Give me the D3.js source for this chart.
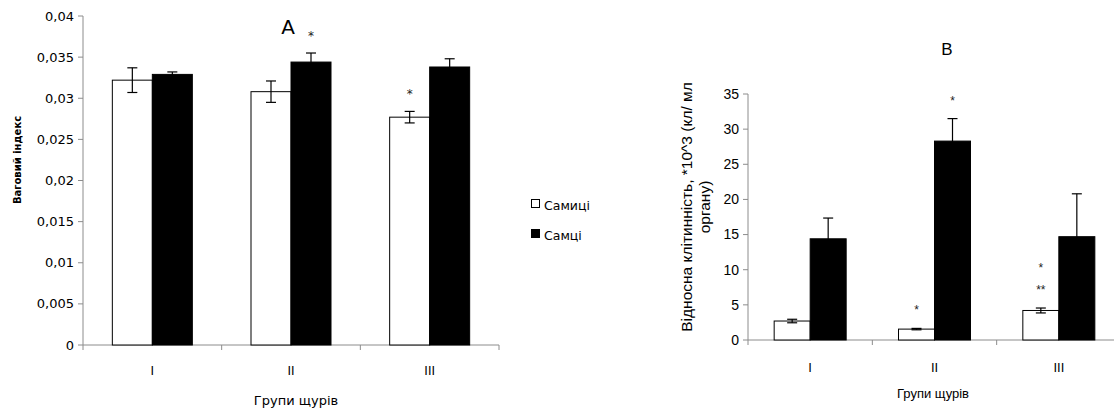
<!DOCTYPE html>
<html>
<head>
<meta charset="utf-8">
<script src="https://cdn.jsdelivr.net/npm/d3@7"></script>
<style>
  body { margin: 0; background: #fff; }
  svg { display: block; }
</style>
</head>
<body>
<div id="chart"></div>
<script>
// Data
const groups = ["I", "II", "III"];
const seriesNames = ["Самиці", "Самці"];

// Panel A: weight index
const aFemale = [0.0322, 0.0308, 0.0277];
const aFemaleErr = [0.0015, 0.0013, 0.0007];
const aMale = [0.0329, 0.0344, 0.0338];
const aMaleErr = [0.0003, 0.0011, 0.0010];
const aTicks = [0, 0.005, 0.01, 0.015, 0.02, 0.025, 0.03, 0.035, 0.04];
const aStars = [
  { group: "II", series: 1, marks: ["*"] },
  { group: "III", series: 0, marks: ["*"] }
];

// Panel B: relative cellularity
const bFemale = [2.7, 1.55, 4.2];
const bFemaleErr = [0.25, 0.1, 0.35];
const bMale = [14.4, 28.3, 14.7];
const bMaleErr = [2.95, 3.2, 6.1];
const bTicks = [0, 5, 10, 15, 20, 25, 30, 35];
const bStars = [
  { group: "II", series: 1, marks: ["*"] },
  { group: "II", series: 0, marks: ["*"] },
  { group: "III", series: 0, marks: ["**", "*"] }
];

const W = 1114, H = 410;
const svg = d3.select("#chart").append("svg")
  .attr("width", W).attr("height", H);

const axisColor = "#8c8c8c";
const fontA = "'DejaVu Sans', sans-serif";
const fontB = "'Liberation Sans', Arial, sans-serif";

function drawPanel(opts) {
  const { female, femaleErr, male, maleErr, ticks, stars, x0, x1, y0, y1,
          yMax, barW, font, tickSize, tickFmt, starOffset, starStep, starSize } = opts;
  const g = svg.append("g");

  const x = d3.scaleBand().domain(groups).range([x0, x1]).padding(0);
  const sx = d3.scaleBand().domain([0, 1]).range([-barW, barW]).padding(0);
  const y = d3.scaleLinear().domain([0, yMax]).range([y0, y1]);

  // y axis
  g.append("line").attr("x1", x0).attr("x2", x0).attr("y1", y(0)).attr("y2", y(yMax))
    .attr("stroke", axisColor);
  g.selectAll(".yt").data(ticks).enter().append("line")
    .attr("x1", x0 - 5).attr("x2", x0).attr("y1", d => y(d)).attr("y2", d => y(d))
    .attr("stroke", axisColor);
  g.selectAll(".yl").data(ticks).enter().append("text")
    .attr("x", x0 - 9).attr("y", d => y(d)).attr("dy", "0.35em")
    .attr("text-anchor", "end")
    .style("font-family", font).style("font-size", tickSize + "px").style("fill", "#000")
    .text(tickFmt);

  // x axis
  g.append("line").attr("x1", x0).attr("x2", x1).attr("y1", y(0)).attr("y2", y(0))
    .attr("stroke", axisColor);
  const edges = groups.map(d => x(d)).concat([x1]);
  g.selectAll(".xt").data(edges).enter().append("line")
    .attr("x1", d => d).attr("x2", d => d).attr("y1", y(0)).attr("y2", y(0) + 5)
    .attr("stroke", axisColor);
  g.selectAll(".xl").data(groups).enter().append("text")
    .attr("x", d => x(d) + x.bandwidth() / 2).attr("y", opts.catY)
    .attr("text-anchor", "middle")
    .style("font-family", font).style("font-size", opts.catSize + "px").style("fill", "#000")
    .text(d => d);

  const series = [
    { vals: female, errs: femaleErr, fill: "#fff" },
    { vals: male, errs: maleErr, fill: "#000" }
  ];
  series.forEach((s, si) => {
    const cx = (d, i) => x(d) + x.bandwidth() / 2 + sx(si);
    g.selectAll(".bar" + si).data(groups).enter().append("rect")
      .attr("x", (d, i) => cx(d, i))
      .attr("y", (d, i) => y(s.vals[i]))
      .attr("width", sx.bandwidth())
      .attr("height", (d, i) => y(0) - y(s.vals[i]))
      .attr("fill", s.fill).attr("stroke", "#000").attr("stroke-width", 1);
    // error bars
    groups.forEach((d, i) => {
      const mx = cx(d, i) + sx.bandwidth() / 2;
      const top = y(s.vals[i] + s.errs[i]), bot = y(s.vals[i] - s.errs[i]);
      g.append("line").attr("x1", mx).attr("x2", mx).attr("y1", top).attr("y2", bot)
        .attr("stroke", "#000").attr("stroke-width", 1.2);
      [top, bot].forEach(yy => g.append("line")
        .attr("x1", mx - 5).attr("x2", mx + 5).attr("y1", yy).attr("y2", yy)
        .attr("stroke", "#000").attr("stroke-width", 1.2));
    });
  });

  // significance stars
  stars.forEach(st => {
    const i = groups.indexOf(st.group);
    const s = series[st.series];
    const mx = x(st.group) + x.bandwidth() / 2 + sx(st.series) + sx.bandwidth() / 2;
    st.marks.forEach((m, k) => {
      g.append("text")
        .attr("x", mx).attr("y", y(s.vals[i] + s.errs[i]) - starOffset - k * starStep + starSize * 0.5)
        .attr("text-anchor", "middle")
        .style("font-family", font).style("font-size", starSize + "px").style("fill", "#222")
        .text(m);
    });
  });
  return { x, y, g };
}

// Panel A
const fmtComma = d => d === 0 ? "0" : String(d).replace(".", ",");
drawPanel({
  female: aFemale, femaleErr: aFemaleErr, male: aMale, maleErr: aMaleErr,
  ticks: aTicks, stars: aStars, x0: 83, x1: 499, y0: 345, y1: 16, yMax: 0.04,
  barW: 40, font: fontA, tickSize: 13, tickFmt: fmtComma,
  catY: 375, catSize: 12, starOffset: 19, starStep: 20, starSize: 12
});
svg.append("text").attr("x", 288).attr("y", 34).attr("text-anchor", "middle")
  .style("font-family", fontA).style("font-size", "20px").text("A");
svg.append("text").attr("transform", "translate(21,160) rotate(-90)")
  .attr("text-anchor", "middle")
  .style("font-family", fontA).style("font-size", "10px")
  .style("font-weight", "bold").text("Ваговий індекс");
svg.append("text").attr("x", 296).attr("y", 405).attr("text-anchor", "middle")
  .style("font-family", fontA).style("font-size", "13px")
  .text("Групи щурів");

// Legend
const legend = svg.append("g").attr("transform", "translate(531,199)");
seriesNames.forEach((n, i) => {
  const row = legend.append("g").attr("transform", `translate(0,${i * 30})`);
  row.append("rect").attr("x", 0.5).attr("y", 0.5).attr("width", 8).attr("height", 8)
    .attr("fill", i === 0 ? "#fff" : "#000").attr("stroke", "#000");
  row.append("text").attr("x", 13).attr("y", 10.5)
    .style("font-family", fontA).style("font-size", "12.5px").text(n);
});

// Panel B
drawPanel({
  female: bFemale, femaleErr: bFemaleErr, male: bMale, maleErr: bMaleErr,
  ticks: bTicks, stars: bStars, x0: 748, x1: 1121, y0: 340, y1: 94, yMax: 35,
  barW: 36, font: fontB, tickSize: 14, tickFmt: d => d,
  catY: 372, catSize: 13, starOffset: 20, starStep: 22, starSize: 12
});
svg.append("text").attr("x", 947).attr("y", 55).attr("text-anchor", "middle")
  .style("font-family", fontB).style("font-size", "17px").text("B");
svg.append("text").attr("x", 933).attr("y", 398).attr("text-anchor", "middle")
  .style("font-family", fontB).style("font-size", "13px")
  .text("Групи щурів");

// rotated y label, clipped at the top like the original
svg.append("defs").append("clipPath").attr("id", "yclip")
  .append("rect").attr("x", 660).attr("y", 83).attr("width", 60).attr("height", 300);
const yl = svg.append("g").attr("clip-path", "url(#yclip)")
  .append("text").attr("transform", "translate(692,207) rotate(-90)")
  .attr("text-anchor", "middle")
  .style("font-family", fontB).style("font-size", "15.5px");
yl.append("tspan").attr("x", 0).attr("dy", 0).text("Відносна клітинність, *10^3 (кл/ мл");
yl.append("tspan").attr("x", 0).attr("dy", "1.15em").text("органу)");
</script>
</body>
</html>
